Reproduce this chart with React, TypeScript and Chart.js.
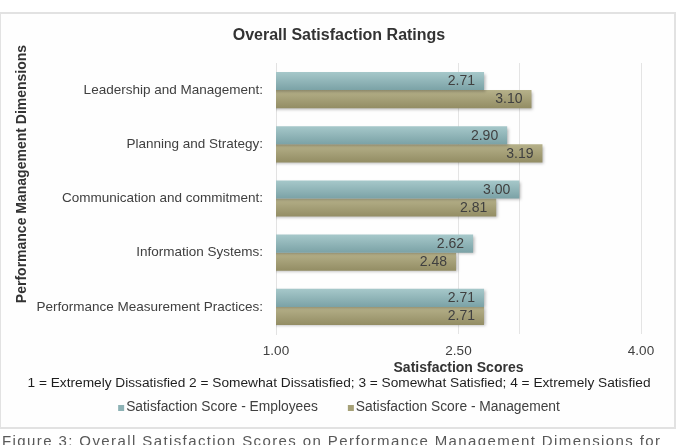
import React, { useEffect, useRef } from 'react';
import { Chart, registerables } from 'chart.js';

Chart.register(...registerables);

// ---- data ----
const categories = [
  'Leadership and Management:',
  'Planning and Strategy:',
  'Communication and commitment:',
  'Information Systems:',
  'Performance Measurement Practices:',
];
const employeeScores = [2.71, 2.9, 3.0, 2.62, 2.71];
const managementScores = [3.1, 3.19, 2.81, 2.48, 2.71];
const seriesNames = ['Satisfaction Score - Employees', 'Satisfaction Score - Management'];
const xGridValues = [1, 2.5, 3, 4];
const xLabeledValues = [1, 2.5, 4];
const chartTitle = 'Overall Satisfaction Ratings';
const xAxisTitle = 'Satisfaction Scores';
const yAxisTitle = 'Performance Management Dimensions';
const scaleNote =
  '1 = Extremely Dissatisfied 2 = Somewhat Dissatisfied; 3 = Somewhat Satisfied; 4 = Extremely Satisfied';
const figureCaption =
  'Figure 3: Overall Satisfaction Scores on Performance Management Dimensions for';

// ---- styling ----
const FONT = "'Liberation Sans', Arial, sans-serif";
const TEXT = '#404040';
const seriesGradients = [
  ['#a6c8ca', '#7ba2a6'],
  ['#b6b18a', '#938d64'],
];
const seriesSwatches = ['#8db2b5', '#a6a178'];

// vertical gradient + soft drop shadow on each bar, value labels at the bar ends
const barStyling = {
  id: 'barStyling',
  beforeDatasetsDraw(chart: any) {
    const ctx = chart.ctx;
    chart.data.datasets.forEach((_ds: any, i: number) => {
      const meta = chart.getDatasetMeta(i);
      const stops = seriesGradients[i];
      meta.data.forEach((el: any) => {
        const { y, height } = el.getProps(['y', 'height'], true);
        const g = ctx.createLinearGradient(0, y - height / 2, 0, y + height / 2);
        g.addColorStop(0, stops[0]);
        g.addColorStop(1, stops[1]);
        el.options = { ...el.options, backgroundColor: g };
      });
    });
    ctx.save();
    ctx.shadowColor = 'rgba(0,0,0,0.28)';
    ctx.shadowBlur = 3;
    ctx.shadowOffsetX = 1.5;
    ctx.shadowOffsetY = 1.5;
  },
  afterDatasetsDraw(chart: any) {
    const ctx = chart.ctx;
    ctx.restore();
    ctx.save();
    ctx.font = `14px ${FONT}`;
    ctx.fillStyle = TEXT;
    ctx.textAlign = 'right';
    ctx.textBaseline = 'middle';
    chart.data.datasets.forEach((ds: any, i: number) => {
      const meta = chart.getDatasetMeta(i);
      meta.data.forEach((el: any, j: number) => {
        const { x, y } = el.getProps(['x', 'y'], true);
        ctx.fillText(Number(ds.data[j]).toFixed(2), x - 9, y + 0.5);
      });
    });
    ctx.restore();
  },
};

// rotated y-axis title, rating-scale note and the legend row
const outerText = {
  id: 'outerText',
  afterDraw(chart: any) {
    const ctx = chart.ctx;
    ctx.save();
    ctx.fillStyle = '#333333';
    ctx.font = `bold 14px ${FONT}`;
    ctx.textAlign = 'center';
    ctx.textBaseline = 'middle';
    ctx.translate(22, 174);
    ctx.rotate(-Math.PI / 2);
    ctx.fillText(yAxisTitle, 0, 0);
    ctx.restore();

    ctx.save();
    ctx.fillStyle = '#1e1e1e';
    ctx.font = `13.7px ${FONT}`;
    ctx.textAlign = 'center';
    ctx.textBaseline = 'middle';
    ctx.fillText(scaleNote, 339, 383);

    // legend
    ctx.font = `13.8px ${FONT}`;
    ctx.textAlign = 'left';
    const box = 6;
    const gapText = 2;
    const gapItem = 30;
    const names = chart.data.datasets.map((d: any) => d.label);
    const widths = names.map((n: string) => ctx.measureText(n).width);
    const total = widths.reduce((a: number, w: number) => a + box + gapText + w, 0) + gapItem * (names.length - 1);
    let x = 339 - total / 2;
    const y = 407;
    names.forEach((n: string, i: number) => {
      ctx.fillStyle = seriesSwatches[i];
      ctx.fillRect(x, y - box / 2 + 1, box, box);
      ctx.fillStyle = TEXT;
      ctx.fillText(n, x + box + gapText, y);
      x += box + gapText + widths[i] + gapItem;
    });
    ctx.restore();
  },
};

export default function App() {
  const canvasRef = useRef<HTMLCanvasElement | null>(null);

  useEffect(() => {
    const canvas = canvasRef.current;
    if (!canvas) return;
    const chart = new Chart(canvas, {
      type: 'bar',
      data: {
        labels: categories,
        datasets: [
          {
            label: seriesNames[0],
            data: employeeScores,
            backgroundColor: seriesSwatches[0],
            xAxisID: 'x',
            yAxisID: 'y',
          },
          {
            label: seriesNames[1],
            data: managementScores,
            backgroundColor: seriesSwatches[1],
            xAxisID: 'x',
            yAxisID: 'y',
          },
        ],
      },
      options: {
        indexAxis: 'y',
        responsive: false,
        animation: false,
        devicePixelRatio: 1,
        categoryPercentage: 0.667,
        barPercentage: 1,
        layout: { padding: { left: 12, right: 12, top: 14, bottom: 68 } },
        plugins: {
          legend: { display: false },
          tooltip: { enabled: false },
          title: {
            display: true,
            text: chartTitle,
            color: '#333333',
            font: { family: FONT, size: 16, weight: 'bold' },
            padding: { top: 12, bottom: 17.8 },
          },
        },
        scales: {
          x: {
            type: 'linear',
            position: 'bottom',
            min: 1,
            max: 4,
            afterBuildTicks: (scale: any) => {
              scale.ticks = xGridValues.map((v) => ({ value: v }));
            },
            ticks: {
              padding: 9,
              color: TEXT,
              font: { family: FONT, size: 13.5 },
              callback: (v: any) => (xLabeledValues.includes(Number(v)) ? Number(v).toFixed(2) : ''),
            },
            grid: { color: '#e4e4e4', drawTicks: false, lineWidth: 1 },
            border: { display: false },
            title: {
              display: true,
              text: xAxisTitle,
              color: '#333333',
              font: { family: FONT, size: 14, weight: 'bold' },
              padding: { top: -8, bottom: 0 },
            },
          },
          y: {
            type: 'category',
            position: 'left',
            afterFit: (scale: any) => {
              scale.width = 264;
            },
            ticks: {
              padding: 13,
              color: TEXT,
              font: { family: FONT, size: 13.5 },
            },
            grid: { display: false, drawTicks: false },
            border: { display: true, color: '#e2e2e2' },
          },
          yRight: {
            type: 'category',
            position: 'right',
            afterFit: (scale: any) => {
              scale.width = 25;
            },
            ticks: { display: false },
            grid: { display: false, drawTicks: false },
            border: { display: false },
          },
        },
      },
      plugins: [barStyling, outerText],
    } as any);
    return () => chart.destroy();
  }, []);

  return (
    <div
      style={{
        position: 'fixed',
        left: 0,
        top: 0,
        width: 678,
        height: 445,
        overflow: 'hidden',
        background: '#ffffff',
      }}
    >
      <div
        style={{
          position: 'absolute',
          left: -1,
          top: 12,
          width: 677,
          height: 417,
          border: '2px solid #e2e2e2',
          boxSizing: 'border-box',
          background: '#fefefe',
        }}
      />
      <canvas
        ref={canvasRef}
        width={678}
        height={445}
        style={{ position: 'absolute', left: 0, top: 0, width: 678, height: 445 }}
      />
      <div
        style={{
          position: 'absolute',
          left: 2,
          top: 432,
          font: `15px ${FONT}`,
          color: '#595959',
          letterSpacing: '1.4px',
          whiteSpace: 'nowrap',
        }}
      >
        {figureCaption}
      </div>
    </div>
  );
}
